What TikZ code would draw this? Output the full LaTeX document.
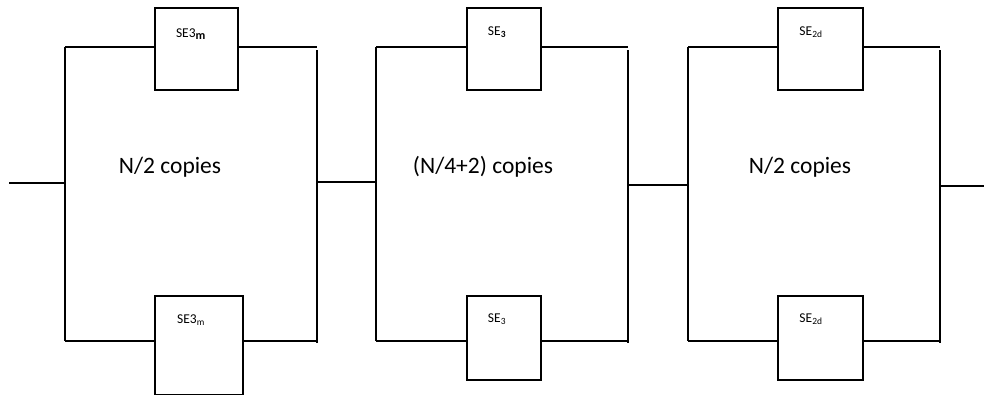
\documentclass[tikz,border=0pt]{standalone}
\usepackage{fontspec}
\setmainfont{Carlito}
\begin{document}
\begin{tikzpicture}[x=1pt,y=-1pt,line width=1.3pt,
    sebox/.style={draw,line width=1.8pt,anchor=north west,inner sep=0pt},
    setext/.style={inner sep=0pt,font=\fontsize{13.5}{16}\selectfont},
    copies/.style={inner sep=0pt,font=\fontsize{23.5}{27}\selectfont}]
  \useasboundingbox (0,0) rectangle (984,394);
  % frame corners of the three blocks
  \draw
    (65,47) coordinate (a1) (317,50) coordinate (b1)
    (65,341) coordinate (c1) (317,343) coordinate (d1)
    (376,47) coordinate (a2) (628,50) coordinate (b2)
    (376,341) coordinate (c2) (628,343) coordinate (d2)
    (688,47) coordinate (a3) (940,50) coordinate (b3)
    (688,341) coordinate (c3) (940,343) coordinate (d3)
    (9,183) coordinate (in) (984,186) coordinate (out);
  % boxes
  \node[sebox,minimum width=83pt,minimum height=82pt] (t1) at (154,7) {};
  \node[sebox,minimum width=88pt,minimum height=99pt] (u1) at (154,295) {};
  \node[sebox,minimum width=74pt,minimum height=82pt] (t2) at (466,7) {};
  \node[sebox,minimum width=74pt,minimum height=84pt] (u2) at (466,295) {};
  \node[sebox,minimum width=85pt,minimum height=82pt] (t3) at (777,7) {};
  \node[sebox,minimum width=85pt,minimum height=84pt] (u3) at (777,295) {};
  % labels
  \node[setext] (lt1) at (191,34) {SE3\textsubscript{\textbf{\large m}}};
  \node[setext] (lu1) at (191,320) {SE3\textsubscript{m}};
  \node[setext] (lt2) at (497,32) {SE\textsubscript{\textbf{3}}};
  \node[setext] (lu2) at (497,319) {SE\textsubscript{3}};
  \node[setext] (lt3) at (811,32) {SE\textsubscript{2d}};
  \node[setext] (lu3) at (811,319) {SE\textsubscript{2d}};
  \node[copies] (n1) at (170,167) {N/2 copies};
  \node[copies] (n2) at (483,167) {(N/4+2) copies};
  \node[copies] (n3) at (800,167) {N/2 copies};
  % parallel branches
  \begin{scope}[-]
    \draw (a1) -- (c1);
    \draw (b1) -- (d1);
    \draw (a1) -- (a1 -| t1.west);
    \draw (a1 -| t1.east) -- (a1 -| b1);
    \draw (c1) -- (c1 -| u1.west);
    \draw (c1 -| u1.east) -- (c1 -| d1);
    \draw (a2) -- (c2);
    \draw (b2) -- (d2);
    \draw (a2) -- (a2 -| t2.west);
    \draw (a2 -| t2.east) -- (a2 -| b2);
    \draw (c2) -- (c2 -| u2.west);
    \draw (c2 -| u2.east) -- (c2 -| d2);
    \draw (a3) -- (c3);
    \draw (b3) -- (d3);
    \draw (a3) -- (a3 -| t3.west);
    \draw (a3 -| t3.east) -- (a3 -| b3);
    \draw (c3) -- (c3 -| u3.west);
    \draw (c3 -| u3.east) -- (c3 -| d3);
  \end{scope}
  % series links
  \draw (in) -- (in -| a1);
  \draw (b1 |- 0,182) -- (a2 |- 0,182);
  \draw (b2 |- 0,185) -- (a3 |- 0,185);
  \draw (b3 |- out) -- (out);
\end{tikzpicture}
\end{document}
